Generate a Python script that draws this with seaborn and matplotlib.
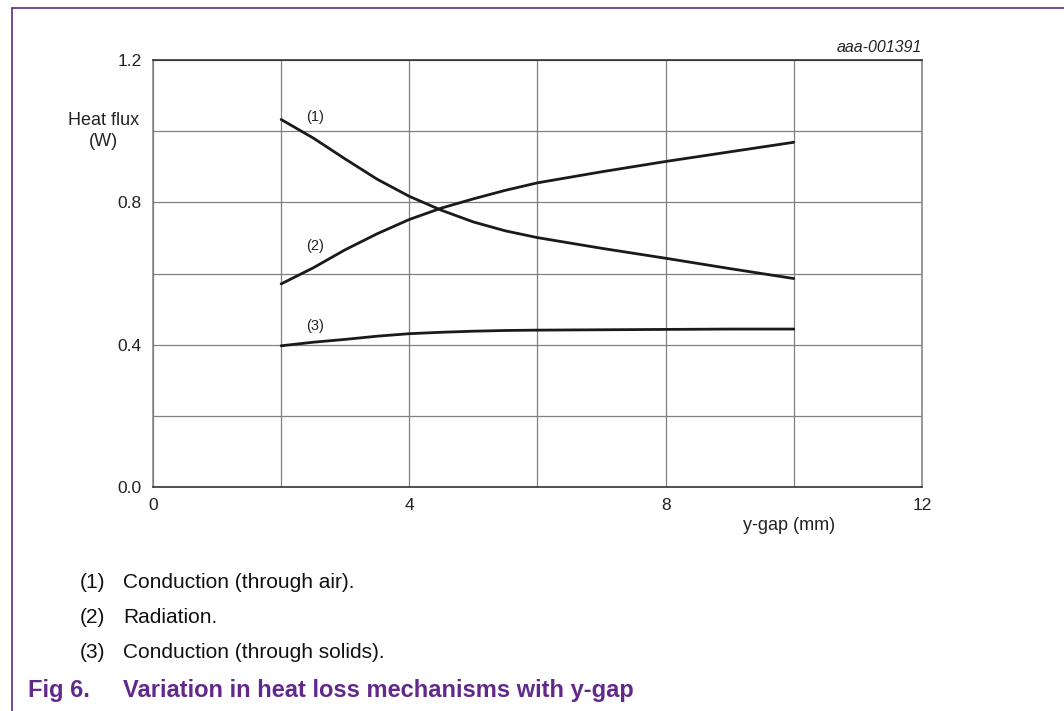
import numpy as np
import pandas as pd
import matplotlib
matplotlib.use("Agg")
import matplotlib.pyplot as plt
from matplotlib.lines import Line2D
import seaborn as sns

# values
y_gap = [2, 2.5, 3, 3.5, 4, 4.5, 5, 5.5, 6, 7, 8, 9, 10]
conduction_air = [1.033, 0.981, 0.922, 0.865, 0.817, 0.778, 0.745, 0.720, 0.701, 0.671, 0.643, 0.614, 0.586]
radiation = [0.571, 0.616, 0.667, 0.712, 0.752, 0.784, 0.810, 0.834, 0.855, 0.886, 0.915, 0.942, 0.969]
conduction_solid = [0.397, 0.407, 0.415, 0.424, 0.431, 0.435, 0.438, 0.440, 0.441, 0.442, 0.443, 0.444, 0.444]

series_names = ["(1)", "(2)", "(3)"]
label_pos = [(2.53, 1.04), (2.53, 0.677), (2.53, 0.452)]
notes = ["Conduction (through air).", "Radiation.", "Conduction (through solids)."]

x_ticks = [0, 2, 4, 6, 8, 10, 12]
x_labels = ["0", "", "4", "", "8", "", "12"]
y_ticks = [0.0, 0.2, 0.4, 0.6, 0.8, 1.0, 1.2]
y_labels = ["0.0", "", "0.4", "", "0.8", "", "1.2"]

df = pd.DataFrame({
    "y_gap": y_gap * 3,
    "flux": conduction_air + radiation + conduction_solid,
    "series": [s for s in series_names for _ in y_gap],
})

sns.set_style("white")
plt.rcParams["font.family"] = ["Liberation Sans", "DejaVu Sans"]

purple = "#62288a"
fig = plt.figure(figsize=(10.64, 7.11), dpi=100)
ax = fig.add_axes([0.1438, 0.315, 0.7227, 0.6005])

sns.lineplot(data=df, x="y_gap", y="flux", hue="series",
             palette=["#1a1a1a"] * 3, linewidth=2.0, legend=False, ax=ax)

for name, (lx, ly) in zip(series_names, label_pos):
    ax.text(lx, ly, name, fontsize=10.5, color="#222222", ha="center", va="center")

ax.set_xlim(0, 12)
ax.set_ylim(0, 1.2)
ax.set_xticks(x_ticks)
ax.set_xticklabels(x_labels)
ax.set_yticks(y_ticks)
ax.set_yticklabels(y_labels)
ax.tick_params(axis="both", length=0, labelsize=12.5, colors="#222222")
ax.tick_params(axis="y", pad=8)
ax.tick_params(axis="x", pad=8)
ax.grid(True, color="#808080", linewidth=0.9)

for side in ["top", "bottom"]:
    ax.spines[side].set_color("#222222")
    ax.spines[side].set_linewidth(1.1)
for side in ["left", "right"]:
    ax.spines[side].set_color("#808080")
    ax.spines[side].set_linewidth(1.1)

ax.set_ylabel("Heat flux\n(W)", rotation=0, fontsize=13, color="#222222",
              ha="center", va="center", linespacing=1.3)
ax.yaxis.set_label_coords(-0.064, 0.834)
ax.set_xlabel("y-gap (mm)", fontsize=13, color="#222222", ha="center", va="center")
ax.xaxis.set_label_coords(0.827, -0.091)

ax.text(1.0, 1.03, "aaa-001391", transform=ax.transAxes, ha="right", va="center",
        fontsize=11.5, style="italic", color="#222222")

# footnotes and caption
for i, (name, note) in enumerate(zip(series_names, notes)):
    yy = 1 - (583 + i * 34.5) / 711
    fig.text(80 / 1064, yy, name, fontsize=15, color="#111111", va="center")
    fig.text(123 / 1064, yy, note, fontsize=15, color="#111111", va="center")

fig.text(28 / 1064, 1 - 690 / 711, "Fig 6.", fontsize=17, fontweight="bold",
         color=purple, va="center")
fig.text(123 / 1064, 1 - 690 / 711, "Variation in heat loss mechanisms with y-gap",
         fontsize=17, fontweight="bold", color=purple, va="center")

# purple frame on top and left
fig.add_artist(Line2D([11.5 / 1064, 1.0], [1 - 7.5 / 711, 1 - 7.5 / 711],
                      transform=fig.transFigure, color="#5a2b7e", linewidth=1.2))
fig.add_artist(Line2D([11.5 / 1064, 11.5 / 1064], [0.0, 1 - 7.5 / 711],
                      transform=fig.transFigure, color="#5a2b7e", linewidth=1.2))

fig.savefig("out.png", dpi=100)
